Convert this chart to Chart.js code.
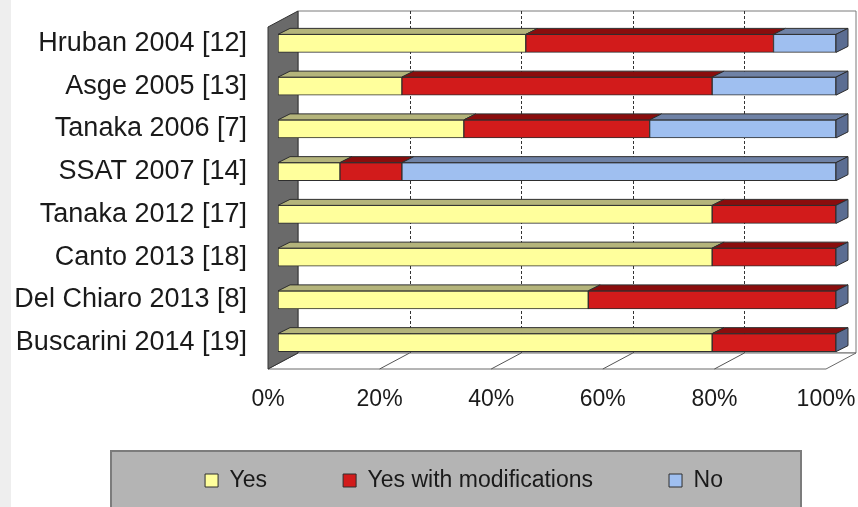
<!DOCTYPE html>
<html>
<head>
<meta charset="utf-8">
<script src="https://cdn.jsdelivr.net/npm/chart.js@4.4.0/dist/chart.umd.min.js"></script>
<style>
  html, body { margin: 0; padding: 0; background: #fff; }
  canvas { display: block; }
</style>
</head>
<body>
<canvas id="chart" width="858" height="507"></canvas>
<script>
// data (share of items, %)
const studies = ['Hruban 2004 [12]', 'Asge 2005 [13]', 'Tanaka 2006 [7]', 'SSAT 2007 [14]',
  'Tanaka 2012 [17]', 'Canto 2013 [18]', 'Del Chiaro 2013 [8]', 'Buscarini 2014 [19]'];
const yes = [44.4, 22.2, 33.3, 11.1, 77.8, 77.8, 55.6, 77.8];
const yesMod = [44.4, 55.6, 33.3, 11.1, 22.2, 22.2, 44.4, 22.2];
const no = [11.2, 22.2, 33.4, 77.8, 0, 0, 0, 0];
const xTicks = [0, 20, 40, 60, 80, 100];

const FONT = 'Liberation Sans, Arial, sans-serif';
// oblique offsets relative to the bar plane
const BACK = { dx: 20, dy: -11 };
const FRONT = { dx: -10, dy: 5 };
const BAR = { dx: 12, dy: -6 };

const topColors = ['#b4b47b', '#8a0d0d', '#6f82a6'];
const capColor = '#5b6d92';

function poly(ctx, pts, fill, stroke) {
  ctx.beginPath();
  ctx.moveTo(pts[0][0], pts[0][1]);
  for (let i = 1; i < pts.length; i++) ctx.lineTo(pts[i][0], pts[i][1]);
  ctx.closePath();
  if (fill) { ctx.fillStyle = fill; ctx.fill(); }
  if (stroke) { ctx.strokeStyle = stroke; ctx.stroke(); }
}

const depth3d = {
  id: 'depth3d',
  afterLayout(chart) {
    // park the legend inside the grey box at the bottom
    const lg = chart.legend;
    lg.top = 393;
    lg.left += 35;
    lg.right += 35;
  },
  beforeDraw(chart) {
    const ctx = chart.ctx;
    ctx.save();
    ctx.fillStyle = '#ffffff';
    ctx.fillRect(0, 0, chart.width, chart.height);
    ctx.fillStyle = '#eeeeee';
    ctx.fillRect(0, 0, 11, chart.height);
    ctx.fillStyle = '#b4b4b4';
    ctx.fillRect(111, 451, 690, 70);
    ctx.strokeStyle = '#7c7c7c';
    ctx.lineWidth = 2;
    ctx.strokeRect(111, 451, 690, 70);
    ctx.restore();
  },
  beforeDatasetsDraw(chart) {
    const { ctx, chartArea: a, scales: { x } } = chart;
    ctx.save();
    ctx.lineWidth = 1;
    // back wall
    poly(ctx, [[a.left + BACK.dx, a.top + BACK.dy], [a.right + BACK.dx, a.top + BACK.dy],
      [a.right + BACK.dx, a.bottom + BACK.dy], [a.left + BACK.dx, a.bottom + BACK.dy]], '#ffffff', '#7a7a7a');
    // dashed grid on the back wall
    ctx.setLineDash([3, 2]);
    ctx.strokeStyle = '#333333';
    xTicks.slice(1, -1).forEach(v => {
      const px = Math.round(x.getPixelForValue(v) + BACK.dx) + 0.5;
      ctx.beginPath();
      ctx.moveTo(px, a.top + BACK.dy);
      ctx.lineTo(px, a.bottom + BACK.dy);
      ctx.stroke();
    });
    ctx.setLineDash([]);
    // floor
    poly(ctx, [[a.left + FRONT.dx, a.bottom + FRONT.dy], [a.right + FRONT.dx, a.bottom + FRONT.dy],
      [a.right + BACK.dx, a.bottom + BACK.dy], [a.left + BACK.dx, a.bottom + BACK.dy]], '#ffffff', '#6a6a6a');
    ctx.strokeStyle = '#555555';
    xTicks.slice(1, -1).forEach(v => {
      const px = x.getPixelForValue(v);
      ctx.beginPath();
      ctx.moveTo(px + FRONT.dx, a.bottom + FRONT.dy);
      ctx.lineTo(px + BACK.dx, a.bottom + BACK.dy);
      ctx.stroke();
    });
    // side wall
    poly(ctx, [[a.left + FRONT.dx, a.top + FRONT.dy], [a.left + BACK.dx, a.top + BACK.dy],
      [a.left + BACK.dx, a.bottom + BACK.dy], [a.left + FRONT.dx, a.bottom + FRONT.dy]], '#6a6a6a', '#333333');
    ctx.restore();
  },
  afterDatasetsDraw(chart) {
    const ctx = chart.ctx;
    ctx.save();
    ctx.lineWidth = 1;
    const n = chart.data.labels.length;
    for (let i = 0; i < n; i++) {
      let last = null;
      chart.data.datasets.forEach((ds, d) => {
        const bar = chart.getDatasetMeta(d).data[i];
        const p = bar.getProps(['x', 'y', 'base', 'height'], true);
        const top = p.y - p.height / 2;
        if (p.x - p.base > 0.5) {
          poly(ctx, [[p.base, top], [p.x, top], [p.x + BAR.dx, top + BAR.dy], [p.base + BAR.dx, top + BAR.dy]],
            topColors[d], '#2e2e2e');
        }
        last = p;
      });
      const t = last.y - last.height / 2, b = last.y + last.height / 2;
      poly(ctx, [[last.x, t], [last.x + BAR.dx, t + BAR.dy], [last.x + BAR.dx, b + BAR.dy], [last.x, b]],
        capColor, '#2e2e2e');
    }
    ctx.restore();
  }
};

const config = {
  type: 'bar',
  data: {
    labels: studies,
    datasets: [
      { label: 'Yes', data: yes, backgroundColor: '#ffff9c' },
      { label: 'Yes with modifications', data: yesMod, backgroundColor: '#d21b1b' },
      { label: 'No', data: no, backgroundColor: '#9fbff0' }
    ].map(ds => Object.assign(ds, {
      borderColor: '#2e2e2e', borderWidth: 1, borderSkipped: false, barThickness: 18
    }))
  },
  options: {
    indexAxis: 'y',
    responsive: false,
    animation: false,
    layout: { padding: { top: 22, left: 0, right: 0, bottom: 0 } },
    scales: {
      x: {
        stacked: true,
        min: 0,
        max: 100,
        afterBuildTicks: s => { s.ticks = xTicks.map(v => ({ value: v })); },
        afterFit: s => { s.height = 103; s.paddingRight = 22; s.paddingLeft = 0; },
        grid: { display: false, drawTicks: false },
        border: { display: false },
        ticks: {
          callback: v => v + '%',
          labelOffset: -10,
          padding: 22,
          color: '#1a1a1a',
          font: { family: FONT, size: 23 }
        }
      },
      y: {
        stacked: true,
        afterFit: s => { s.width = 278; s.paddingTop = 0; s.paddingBottom = 0; },
        grid: { display: false, drawTicks: false },
        border: { display: false },
        ticks: {
          padding: 31,
          color: '#1a1a1a',
          font: { family: FONT, size: 27 }
        }
      }
    },
    plugins: {
      legend: {
        position: 'bottom',
        maxHeight: 40,
        labels: {
          boxWidth: 13,
          boxHeight: 13,
          padding: 76,
          color: '#1a1a1a',
          font: { family: FONT, size: 23 }
        }
      },
      tooltip: { enabled: false }
    }
  },
  plugins: [depth3d]
};

const myChart = new Chart(document.getElementById('chart'), config);
</script>
</body>
</html>
